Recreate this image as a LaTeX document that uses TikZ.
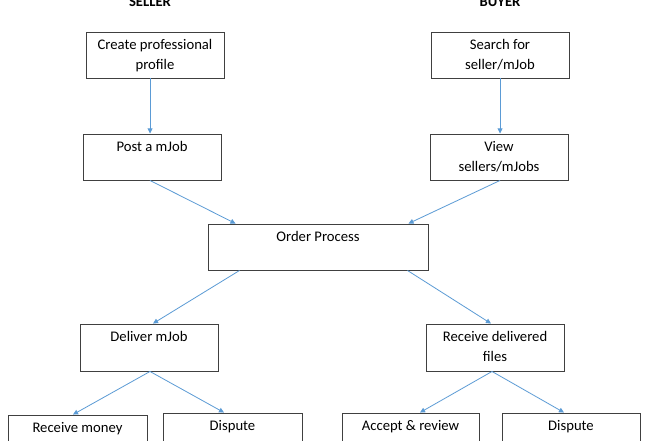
\documentclass[tikz,border=0pt]{standalone}
\usepackage{fontspec}
\setmainfont{Carlito}
\usetikzlibrary{arrows.meta,calc}
\definecolor{arrowblue}{HTML}{5B9BD5}
\definecolor{boxline}{HTML}{404040}
\tikzset{
  box/.style={draw=boxline, line width=0.7pt, inner sep=0pt, minimum width=103.5pt, minimum height=34.5pt,
    align=center, font=\fontsize{11pt}{15pt}\selectfont},
  title/.style={anchor=base, font=\fontsize{11pt}{15pt}\selectfont\bfseries},
  conn/.style={draw=arrowblue, line width=0.6pt, -{Triangle[length=3.8pt,width=3.6pt]}}
}
\begin{document}
\begin{tikzpicture}[x=0.75pt,y=-0.75pt]
\clip (0,0) rectangle (660,440);
\fill[white] (0,0) rectangle (660,440);
% titles
\node[title] (seller) at (150,6) {SELLER};
\node[title] (buyer) at (500,6) {BUYER};
% boxes
\node[box] (profile) at (155,55) {\strut Create professional\\\strut profile};
\node[box] (post) at (152,157) {\strut Post a mJob\\\strut};
\node[box] (search) at (500,55) {\strut Search for\\\strut seller/mJob};
\node[box] (view) at (499,157) {\strut View\\\strut sellers/mJobs};
\node[box, minimum width=165pt] (order) at (318,247) {\strut Order Process\\\strut};
\node[box, minimum height=35.25pt] (deliver) at (149,347.5) {\strut Deliver mJob\\\strut};
\node[box, minimum height=35.25pt] (recv) at (495,347.5) {\strut Receive delivered\\\strut files};
\node[box, minimum width=104.25pt] (money) at (77.5,438) {\strut Receive money\\\strut};
\node[box, minimum width=104.25pt] (displ) at (232.5,436) {\strut Dispute\\\strut};
\node[box, minimum width=102.75pt] (accept) at (410.5,436) {\strut Accept \& review\\\strut};
\node[box] (dispr) at (571,436) {\strut Dispute\\\strut};
% connectors
\draw[conn] ($(profile.south)+(-5,0)$) -- ($(post.north)+(-2,0)$);
\draw[conn] (search.south) -- ($(view.north)+(1,0)$);
\draw[conn] ($(post.south)+(-2,0)$) -- ($(order.north west)+(28,0)$);
\draw[conn] ($(view.south)+(1,0)$) -- ($(order.north east)+(-20,0)$);
\draw[conn] ($(order.south west)+(32,0)$) -- ($(deliver.north)+(4,0)$);
\draw[conn] ($(order.south east)+(-21,0)$) -- ($(recv.north)+(-4,0)$);
\draw[conn] ($(deliver.south)+(1,0)$) -- ($(money.north)+(-4.5,0)$);
\draw[conn] ($(deliver.south)+(1,0)$) -- ($(displ.north)+(-8.5,0)$);
\draw[conn] ($(recv.south)+(-3,0)$) -- ($(accept.north)+(9.5,0)$);
\draw[conn] ($(recv.south)+(-3,0)$) -- ($(dispr.north)+(-7,0)$);
\end{tikzpicture}
\end{document}
